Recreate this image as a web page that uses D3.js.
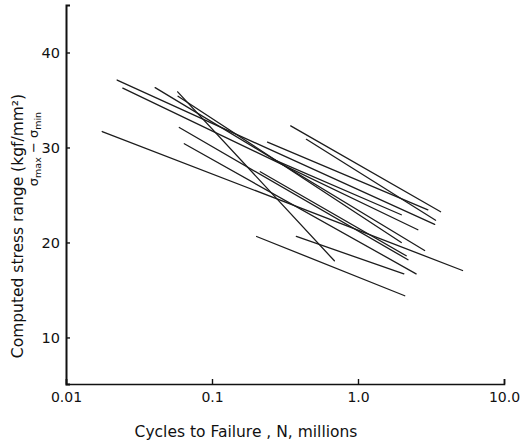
<!DOCTYPE html>
<html>
<head>
<meta charset="utf-8">
<script src="https://cdn.jsdelivr.net/npm/d3@7/dist/d3.min.js"></script>
<style>
  html, body { margin: 0; padding: 0; background: #fff; }
  svg text { font-family: "DejaVu Sans", "Liberation Sans", sans-serif; fill: #111; }
</style>
</head>
<body>
<svg id="chart" width="528" height="442"></svg>
<script>
// S-N test lines: each segment runs from (startCycles, startStress) to (endCycles, endStress)
const startCycles = [0.0224, 0.0245, 0.0408, 0.0582, 0.0585, 0.0177, 0.0597, 0.0646, 0.202, 0.378, 0.346, 0.443, 0.240, 0.258, 0.214];
const startStress = [37.1, 36.25, 36.3, 35.86, 35.39, 31.68, 32.1, 30.39, 20.63, 20.63, 32.28, 30.86, 30.57, 28.81, 27.44];
const endCycles   = [3.35, 2.57, 2.86, 0.689, 1.98, 5.2, 2.20, 2.50, 2.09, 2.06, 3.68, 3.40, 3.01, 1.98, 2.14];
const endStress   = [21.9, 21.34, 19.16, 18.07, 20.0, 17.05, 18.18, 16.7, 14.39, 16.7, 23.23, 22.34, 23.44, 22.92, 18.6];

// Axis ticks
const xTicks = [0.01, 0.1, 1, 10];
const xTickLabels = ["0.01", "0.1", "1.0", "10.0"];
const yTicks = [10, 20, 30, 40];
const yTickLabels = ["10", "20", "30", "40"];

const svg = d3.select("#chart");

const x = d3.scaleLog().domain([0.01, 10]).range([66, 504]);
const y = d3.scaleLinear().domain([5.1, 45]).range([384, 5]);

const segments = startCycles.map((n, i) => ({
  n0: n, s0: startStress[i], n1: endCycles[i], s1: endStress[i]
}));

// Data lines
svg.append("g")
  .selectAll("line")
  .data(segments)
  .join("line")
  .attr("x1", d => x(d.n0))
  .attr("y1", d => y(d.s0))
  .attr("x2", d => x(d.n1))
  .attr("y2", d => y(d.s1))
  .attr("stroke", "#1c1c1c")
  .attr("stroke-width", 1.3)
  .attr("stroke-linecap", "round");

// X axis: ticks point up into the plot
const xAxis = d3.axisBottom(x)
  .tickValues(xTicks)
  .tickFormat((d, i) => xTickLabels[i])
  .tickSize(-5)
  .tickPadding(8);
const gx = svg.append("g").attr("transform", `translate(0,${y(5.1)})`).call(xAxis);
gx.select(".domain").attr("stroke", "#111").attr("stroke-width", 1.6);
gx.selectAll(".tick line").attr("stroke", "#111").attr("stroke-width", 1.4);
gx.selectAll(".tick text").attr("font-size", 14).attr("fill", "#111");

// Y axis: ticks point right into the plot
const yAxis = d3.axisLeft(y)
  .tickValues(yTicks)
  .tickFormat((d, i) => yTickLabels[i])
  .tickSize(-4)
  .tickPadding(6);
const gy = svg.append("g").attr("transform", `translate(${x(0.01)},0)`).call(yAxis);
gy.select(".domain").attr("stroke", "#111").attr("stroke-width", 2);
gy.selectAll(".tick line").attr("stroke", "#111").attr("stroke-width", 1.4);
gy.selectAll(".tick text").attr("font-size", 14.5).attr("fill", "#111");

// Axis titles
svg.append("text")
  .attr("x", 246)
  .attr("y", 437)
  .attr("text-anchor", "middle")
  .attr("font-size", 15.5)
  .text("Cycles to Failure , N, millions");

svg.append("text")
  .attr("transform", "translate(23,226) rotate(-90)")
  .attr("text-anchor", "middle")
  .attr("font-size", 15.5)
  .text("Computed stress range (kgf/mm²)");

const sub = svg.append("text")
  .attr("transform", "translate(38,149) rotate(-90)")
  .attr("text-anchor", "middle")
  .attr("font-size", 13);
sub.append("tspan").text("σ");
sub.append("tspan").attr("font-size", 9.5).attr("dy", 3).text("max");
sub.append("tspan").attr("dy", -3).text(" − σ");
sub.append("tspan").attr("font-size", 9.5).attr("dy", 3).text("min");
</script>
</body>
</html>
